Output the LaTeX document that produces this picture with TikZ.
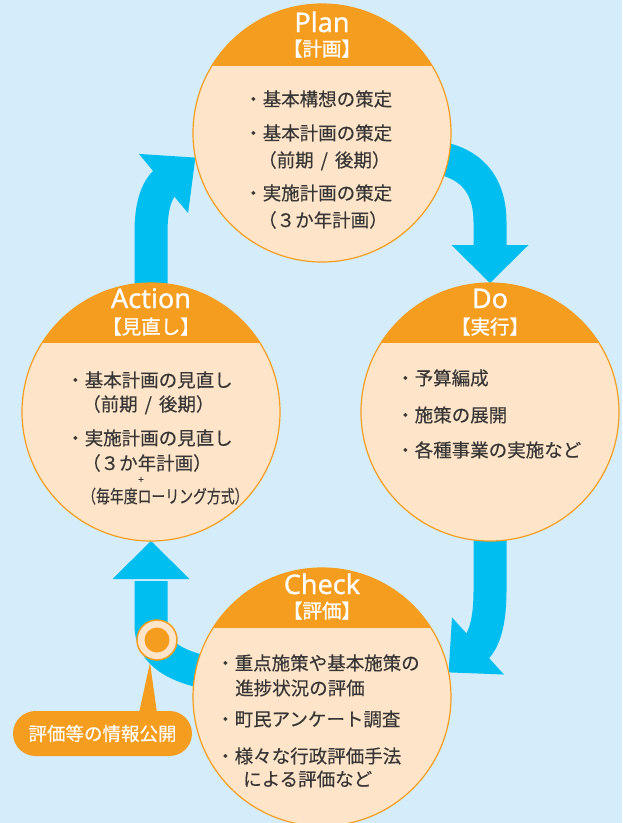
\documentclass[tikz,border=0pt]{standalone}
\usepackage{fontspec}
\setmainfont[FakeBold=0.3]{Noto Sans CJK JP}
\newfontfamily\hdfont[FakeBold=0.8]{Noto Sans}
\newfontfamily\subfont[FakeBold=1.2]{Noto Sans CJK JP}
\usetikzlibrary{calc}
\definecolor{bg}{HTML}{D5EDFA}
\definecolor{peach}{HTML}{FEE4C8}
\definecolor{orng}{HTML}{F59D1E}
\definecolor{arrowblue}{HTML}{00BEF0}
\definecolor{textgray}{HTML}{363636}
\begin{document}
\begin{tikzpicture}[x=1pt,y=-1pt,
  phase/.style={circle, minimum size=258pt, inner sep=0pt, outer sep=0pt,
    fill=peach, draw=orng, line width=1.2pt,
    path picture={\fill[orng] (path picture bounding box.north west) rectangle ([yshift=-#1]path picture bounding box.north east);}},
  shaft/.style={draw=arrowblue, line width=33pt},
  head/.style={fill=arrowblue},
  title/.style={font=\hdfont\fontsize{27}{30}\selectfont, text=white, anchor=base, inner sep=0pt},
  sub/.style={font=\subfont\fontsize{19.5}{22}\selectfont, text=white, anchor=base, inner sep=0pt},
  body/.style={font=\fontsize{18.5}{22}\selectfont, text=textgray, anchor=base west, inner sep=0pt},
]
\useasboundingbox (0,0) rectangle (622,823);
\fill[bg] (0,0) rectangle (622,823);

% coordinates for circle centres
\coordinate (cplan) at (322,133);
\coordinate (cdo) at (490,412);
\coordinate (cact) at (151,412);
\coordinate (cchk) at (322,697);

% helper nodes (invisible) to get anchors before drawing the arrows
\path (cplan) node[circle, minimum size=258pt, inner sep=0pt, outer sep=0pt] (plan) {};
\path (cdo) node[circle, minimum size=258pt, inner sep=0pt, outer sep=0pt] (do) {};
\path (cact) node[circle, minimum size=258pt, inner sep=0pt, outer sep=0pt] (action) {};
\path (cchk) node[circle, minimum size=258pt, inner sep=0pt, outer sep=0pt] (check) {};

% Plan -> Do
\draw[shaft] ($(plan.center)!0.95!(plan.-12)$) .. controls (476,166) and (490,190) .. (490,222) -- (490,247);
\fill[head] (451.5,245) -- (528.5,245) -- (do.north) -- cycle;
% Do -> Check
\draw[shaft] (do.center) -- (490,592) .. controls (490,616) and (486,639) .. (475,649);
\fill[head] (452,617.5) -- (504,674.5) -- (check.11) -- cycle;
% Check -> Action
\draw[shaft] ($(check.center)!0.95!(check.168)$) .. controls (170,664) and (151,650) .. (151,625) -- (151,581);
\fill[head] (112.5,579) -- (189.5,579) -- (action.south) -- cycle;
% Action -> Plan
\draw[shaft] (action.center) -- (151,232) .. controls (151,208) and (155.8,189.9) .. (166.6,180.9);
\fill[head] (138.9,153.9) -- (188.1,213.1) -- (plan.191) -- cycle;

% the four phase circles
\node[phase=62pt] (planc) at (cplan) {};
\node[phase=60pt] (doc) at (cdo) {};
\node[phase=60pt] (actionc) at (cact) {};
\node[phase=60pt] (checkc) at (cchk) {};

% headers
\node[title] (plantitle) at (322,32) {Plan};
\node[sub] (plansub) at (322,56) {【計画】};
\node[title] (dotitle) at (490,308) {Do};
\node[sub] (dosub) at (490,334) {【実行】};
\node[title] (acttitle) at (151,308) {Action};
\node[sub] (actsub) at (151,334) {【見直し】};
\node[title] (chktitle) at (322,594) {Check};
\node[sub] (chksub) at (322,618) {【評価】};

% Plan body
\node[body] (p1) at (244,106) {・基本構想の策定};
\node[body] (p2) at (244,140) {・基本計画の策定};
\node[body] (p3) at (258,167) {（前期\hspace{7pt}/\hspace{7pt}後期）};
\node[body] (p4) at (244,200) {・実施計画の策定};
\node[body] (p5) at (258,227) {（３か年計画）};

% Do body
\node[body] (d1) at (396,385) {・予算編成};
\node[body] (d2) at (396,422) {・施策の展開};
\node[body] (d3) at (396,457) {・各種事業の実施など};

% Action body
\node[body] (a1) at (66,387) {・基本計画の見直し};
\node[body] (a2) at (82,411) {（前期\hspace{7pt}/\hspace{7pt}後期）};
\node[body] (a3) at (66,445) {・実施計画の見直し};
\node[body] (a4) at (82,470) {（３か年計画）};
\node[font=\fontsize{10}{12}\selectfont, text=textgray, inner sep=0pt] (a5) at (141,480) {+};
\node[body, font=\fontsize{18}{20}\selectfont] (a6) at (82,503) {\scalebox{0.77}[1]{（毎年度ローリング方式）}};

% Check body
\node[body] (c1) at (216,670) {・重点施策や基本施策の};
\node[body] (c2) at (235,695) {進捗状況の評価};
\node[body] (c3) at (216,726) {・町民アンケート調査};
\node[body] (c4) at (216,763) {・様々な行政評価手法};
\node[body] (c5) at (243,786) {による評価など};

% marker and callout
\node[circle, minimum size=40pt, inner sep=0pt, fill=peach, draw=orng, line width=1.5pt] (marker) at (157,640) {};
\node[circle, minimum size=25pt, inner sep=0pt, fill=orng] (markerdot) at (marker.center) {};
\node[fill=orng, rounded corners=22.5pt, minimum width=179pt, minimum height=45pt, inner sep=0pt,
      text=white, font=\fontsize{18.5}{22}\selectfont] (callout) at (102.5,733.5) {評価等の情報公開};
\fill[orng] ($(callout.north)+(36.5,2)$) -- ($(marker.south)+(-7,2)$) -- ($(callout.north)+(54.5,2)$) -- cycle;
\end{tikzpicture}
\end{document}
